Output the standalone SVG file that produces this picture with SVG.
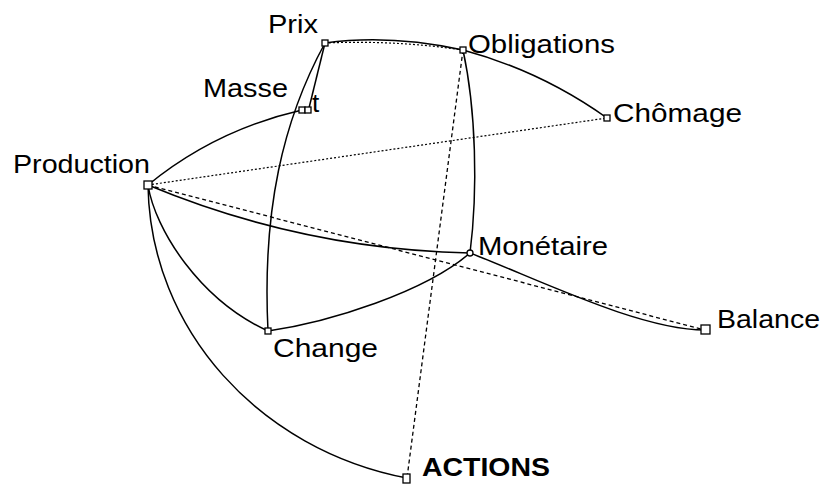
<svg xmlns="http://www.w3.org/2000/svg" width="827" height="490" viewBox="0 0 827 490">
<style>
.lbl{font-family:"Liberation Sans",Arial,sans-serif;font-size:26px;fill:#000}
.bold{font-weight:bold}
.e{fill:none;stroke:#000;stroke-width:1.5}
.dot{fill:none;stroke:#000;stroke-width:1.2;stroke-dasharray:2 2}
.dash{fill:none;stroke:#000;stroke-width:1.3;stroke-dasharray:4 3}
.n{fill:#fff;stroke:#000;stroke-width:1.3}
</style>
<rect width="827" height="490" fill="#fff"/>
<g id="connectors">
<path class="e" d="M325,43 Q390,34 463,50"/>
<path class="dot" d="M325,43 Q395,40 463,50"/>
<path class="e" d="M463,50 Q541,71 607,118"/>
<path class="dot" d="M148,185 L607,118"/>
<path class="dash" d="M148,185 L705,330"/>
<path class="e" d="M148,185 C220,215 330,250 470,253"/>
<path class="e" d="M148,185 Q215,130 302,110"/>
<path class="e" d="M325,43 C283,120 262,210 268,331"/>
<path class="e" d="M325,43 L309,108"/>
<path class="e" d="M463,50 C476,110 478,190 470,253"/>
<path class="dash" d="M463,50 L407,478"/>
<path class="e" d="M470,253 C540,280 640,330 705,330"/>
<path class="e" d="M268,331 C330,322 425,292 470,253"/>
<path class="e" d="M148,185 C155,230 200,300 268,331"/>
<path class="e" d="M148,185 C150,330 260,450 407,478"/>
</g>
<g id="prix"><rect class="n" x="322" y="40" width="6" height="6"/><text class="lbl" x="268" y="33" textLength="50" lengthAdjust="spacingAndGlyphs">Prix</text></g>
<g id="obligations"><rect class="n" x="460" y="47" width="6" height="6"/><text class="lbl" x="468" y="53" textLength="147" lengthAdjust="spacingAndGlyphs">Obligations</text></g>
<g id="masse"><rect class="n" x="299" y="107" width="6" height="6"/><rect class="n" x="305" y="107" width="6" height="6"/><text class="lbl" x="203" y="97" textLength="85" lengthAdjust="spacingAndGlyphs">Masse</text><text class="lbl" x="312" y="112">t</text></g>
<g id="chomage"><rect class="n" x="604" y="115" width="6" height="6"/><text class="lbl" x="613" y="122" textLength="129" lengthAdjust="spacingAndGlyphs">Chômage</text></g>
<g id="production"><rect class="n" x="144" y="181" width="8" height="8"/><text class="lbl" x="13" y="173" textLength="137" lengthAdjust="spacingAndGlyphs">Production</text></g>
<g id="monetaire"><circle class="n" cx="470" cy="253" r="3"/><text class="lbl" x="478" y="255" textLength="130" lengthAdjust="spacingAndGlyphs">Monétaire</text></g>
<g id="change"><rect class="n" x="265" y="328" width="6" height="6"/><text class="lbl" x="273" y="357" textLength="105" lengthAdjust="spacingAndGlyphs">Change</text></g>
<g id="balance"><rect class="n" x="701" y="325" width="9" height="9"/><text class="lbl" x="717" y="328" textLength="103" lengthAdjust="spacingAndGlyphs">Balance</text></g>
<g id="actions"><rect class="n" x="403" y="474" width="7" height="9"/><text class="lbl bold" x="422" y="476" textLength="128" lengthAdjust="spacingAndGlyphs">ACTIONS</text></g>
</svg>
